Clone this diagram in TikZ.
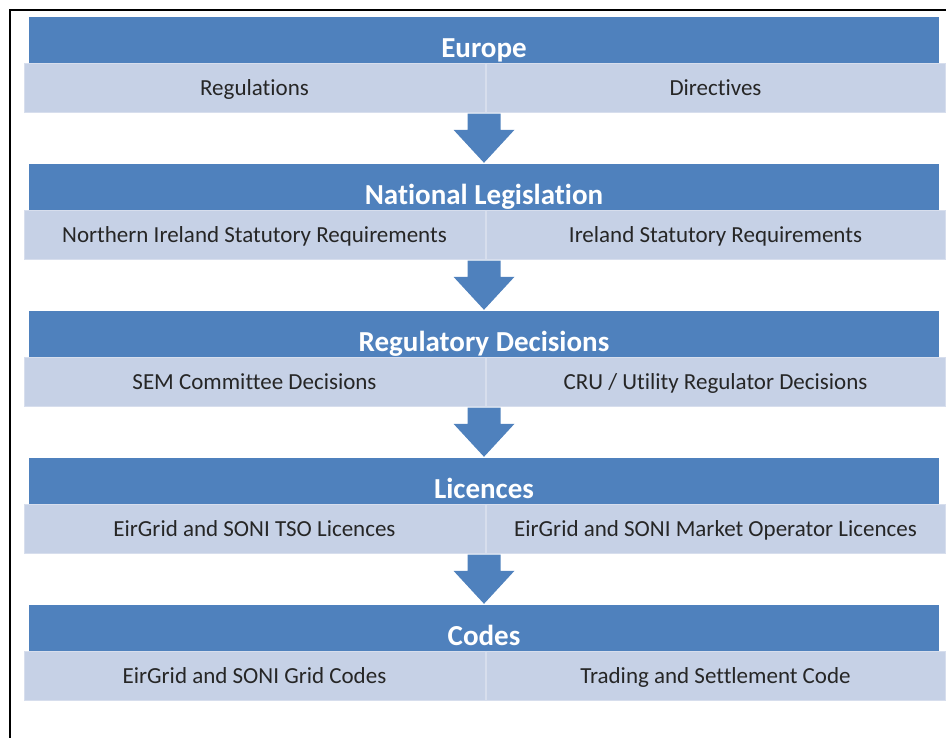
\documentclass[tikz,border=0pt]{standalone}
\usepackage{fontspec}
\setmainfont{Carlito}[Ligatures={NoCommon}]
\usetikzlibrary{calc}
\definecolor{hdrblue}{HTML}{4F81BD}
\definecolor{cellblue}{HTML}{C6D1E6}
\definecolor{celledge}{HTML}{D7DEED}
\definecolor{celltext}{HTML}{262626}
\tikzset{
  hdr/.style={fill=hdrblue, text=white, inner sep=0pt, minimum width=910pt,
    text height=40pt, text depth=6pt, font=\fontsize{29}{34}\selectfont\bfseries},
  cell/.style={fill=cellblue, draw=celledge, line width=1pt, text=celltext, inner sep=0pt,
    text height=32pt, text depth=17pt, font=\fontsize{23}{28}\selectfont},
  cellL/.style={cell, minimum width=461pt},
  cellR/.style={cell, minimum width=459pt}
}
% block arrow from a cell row down to the next header
\newcommand{\blockarrow}[2]{%
\fill[hdrblue] let \p1=(#1.south), \p2=(#2.north) in
  (\x2-16.5pt,\y1-1pt) -- (\x2+16.5pt,\y1-1pt) -- (\x2+16.5pt,\y2+34pt)
  -- (\x2+30.5pt,\y2+34pt) -- (\x2,\y2+1pt) -- (\x2-30.5pt,\y2+34pt)
  -- (\x2-16.5pt,\y2+34pt) -- cycle;}
\begin{document}
\begin{tikzpicture}[x=1pt,y=-1pt]
\useasboundingbox (0,0) rectangle (946,737);
\draw[line width=2.5pt] (10,740)--(10,10)--(950,10);

\node[hdr] (europe) at (484,40) {Europe};
\node[cellL] (europeL) at (254.5,87.5) {Regulations};
\node[cellR] (europeR) at (715.5,87.5) {Directives};

\node[hdr] (natleg) at (484,187) {National Legislation};
\node[cellL] (natlegL) at (254.5,234.5) {Northern Ireland Statutory Requirements};
\node[cellR] (natlegR) at (715.5,234.5) {Ireland Statutory Requirements};

\node[hdr] (regdec) at (484,334) {Regulatory Decisions};
\node[cellL] (regdecL) at (254.5,381.5) {SEM Committee Decisions};
\node[cellR] (regdecR) at (715.5,381.5) {CRU / Utility Regulator Decisions};

\node[hdr] (licences) at (484,481) {Licences};
\node[cellL] (licencesL) at (254.5,528.5) {EirGrid and SONI TSO Licences};
\node[cellR] (licencesR) at (715.5,528.5) {EirGrid and SONI Market Operator Licences};

\node[hdr] (codes) at (484,628) {Codes};
\node[cellL] (codesL) at (254.5,675.5) {EirGrid and SONI Grid Codes};
\node[cellR] (codesR) at (715.5,675.5) {Trading and Settlement Code};

\blockarrow{europeR}{natleg}
\blockarrow{natlegR}{regdec}
\blockarrow{regdecR}{licences}
\blockarrow{licencesR}{codes}
\end{tikzpicture}
\end{document}
